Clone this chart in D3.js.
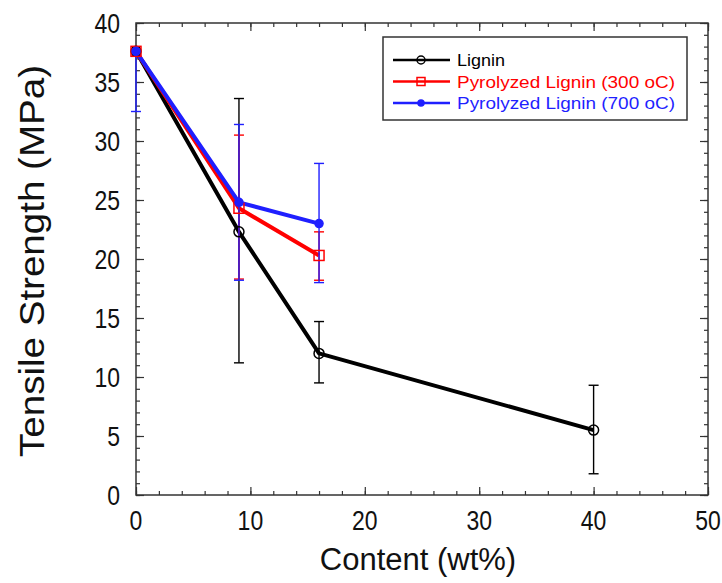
<!DOCTYPE html>
<html>
<head>
<meta charset="utf-8">
<script src="https://cdn.jsdelivr.net/npm/d3@7"></script>
<style>
  body { margin: 0; background: #fff; }
  text { font-family: "Liberation Sans", Arial, sans-serif; }
</style>
</head>
<body>
<svg id="chart"></svg>
<script>
// values
var seriesNames = ['Lignin', 'Pyrolyzed Lignin (300 oC)', 'Pyrolyzed Lignin (700 oC)'];
var seriesColors = ['#000000', '#ff0000', '#1f1fff'];
var ligninX = [0, 9, 16, 40];
var ligninY = [37.6, 22.3, 12.0, 5.5];
var ligninHi = [37.6, 33.6, 14.7, 9.3];
var ligninLo = [37.6, 11.2, 9.5, 1.8];
var pyro300X = [0, 9, 16];
var pyro300Y = [37.6, 24.3, 20.3];
var pyro300Hi = [37.6, 30.5, 22.3];
var pyro300Lo = [37.6, 18.3, 18.2];
var pyro700X = [0, 9, 16];
var pyro700Y = [37.6, 24.8, 23.0];
var pyro700Hi = [37.6, 31.4, 28.1];
var pyro700Lo = [32.5, 18.2, 18.0];
var xTicks = [0, 10, 20, 30, 40, 50];
var yTicks = [0, 5, 10, 15, 20, 25, 30, 35, 40];

var width = 722, height = 583;
var margin = {left: 136, right: 14, top: 23, bottom: 88};

var svg = d3.select('#chart')
    .attr('width', width)
    .attr('height', height);

var x = d3.scaleLinear().domain([0, 50]).range([margin.left, width - margin.right]);
var y = d3.scaleLinear().domain([0, 40]).range([height - margin.bottom, margin.top]);

function makeSeries(xs, ys, hi, lo) {
  return xs.map(function(d, i) { return {x: d, y: ys[i], hi: hi[i], lo: lo[i]}; });
}
var series = [
  makeSeries(ligninX, ligninY, ligninHi, ligninLo),
  makeSeries(pyro300X, pyro300Y, pyro300Hi, pyro300Lo),
  makeSeries(pyro700X, pyro700Y, pyro700Hi, pyro700Lo)
];

// ticks, pointing inward on all four sides
var minorX = d3.range(0, 51, 2), minorY = d3.range(0, 41, 1);
function tickSide(axisFn, scale, vals, size) {
  return axisFn(scale).tickValues(vals).tickSizeInner(-size).tickSizeOuter(0).tickFormat('');
}
var ax = svg.append('g').attr('class', 'axes').attr('color', '#333');
var bottomY = y(0), topY = y(40), leftX = x(0), rightX = x(50);
ax.append('g').attr('transform', 'translate(0,' + bottomY + ')').call(tickSide(d3.axisBottom, x, minorX, 4));
ax.append('g').attr('transform', 'translate(0,' + bottomY + ')').call(tickSide(d3.axisBottom, x, xTicks, 8));
ax.append('g').attr('transform', 'translate(0,' + topY + ')').call(tickSide(d3.axisTop, x, minorX, 4));
ax.append('g').attr('transform', 'translate(0,' + topY + ')').call(tickSide(d3.axisTop, x, xTicks, 8));
ax.append('g').attr('transform', 'translate(' + leftX + ',0)').call(tickSide(d3.axisLeft, y, minorY, 4));
ax.append('g').attr('transform', 'translate(' + leftX + ',0)').call(tickSide(d3.axisLeft, y, yTicks, 8));
ax.append('g').attr('transform', 'translate(' + rightX + ',0)').call(tickSide(d3.axisRight, y, minorY, 4));
ax.append('g').attr('transform', 'translate(' + rightX + ',0)').call(tickSide(d3.axisRight, y, yTicks, 8));
ax.selectAll('.domain').remove();
ax.selectAll('line').attr('stroke-width', 1.2);

// frame
svg.append('rect')
    .attr('x', leftX).attr('y', topY)
    .attr('width', rightX - leftX).attr('height', bottomY - topY)
    .attr('fill', 'none').attr('stroke', '#333').attr('stroke-width', 1.5);

// tick labels (the original is stretched a bit vertically)
svg.append('g').selectAll('text').data(xTicks).enter().append('text')
    .attr('transform', d => 'translate(' + x(d) + ',' + (bottomY + 35) + ') scale(1,1.2)')
    .attr('text-anchor', 'middle').attr('font-size', 23).attr('fill', '#111')
    .text(d => d);
svg.append('g').selectAll('text').data(yTicks).enter().append('text')
    .attr('transform', d => 'translate(' + (leftX - 16) + ',' + (y(d) + 10) + ') scale(1,1.2)')
    .attr('text-anchor', 'end').attr('font-size', 23).attr('fill', '#111')
    .text(d => d);

// axis titles
svg.append('text')
    .attr('x', (leftX + rightX) / 2 - 4).attr('y', bottomY + 75)
    .attr('text-anchor', 'middle').attr('font-size', 31).attr('fill', '#111')
    .text('Content (wt%)');
svg.append('text')
    .attr('transform', 'translate(44,261) rotate(-90)')
    .attr('text-anchor', 'middle').attr('font-size', 35).attr('fill', '#111')
    .attr('textLength', 392).attr('lengthAdjust', 'spacingAndGlyphs')
    .text('Tensile Strength (MPa)');

var line = d3.line().x(d => x(d.x)).y(d => y(d.y));
var plot = svg.append('g');

series.forEach(function(s, i) {
  var c = seriesColors[i];
  var g = plot.append('g');
  // error bars
  var eb = g.selectAll('.eb').data(s.filter(d => d.hi !== d.lo)).enter().append('g');
  eb.append('line')
      .attr('x1', d => x(d.x)).attr('x2', d => x(d.x))
      .attr('y1', d => y(d.hi)).attr('y2', d => y(d.lo))
      .attr('stroke', c).attr('stroke-width', 1.4);
  ['hi', 'lo'].forEach(function(k) {
    eb.append('line')
        .attr('x1', d => x(d.x) - 5).attr('x2', d => x(d.x) + 5)
        .attr('y1', d => y(d[k])).attr('y2', d => y(d[k]))
        .attr('stroke', c).attr('stroke-width', 1.4);
  });
  g.append('path').datum(s)
      .attr('d', line)
      .attr('fill', 'none').attr('stroke', c).attr('stroke-width', 4)
      .attr('stroke-linejoin', 'round');
});

// markers
series.forEach(function(s, i) {
  var c = seriesColors[i];
  var sel = plot.append('g').selectAll('.m').data(s).enter();
  if (i === 1) {
    sel.append('rect')
        .attr('x', d => x(d.x) - 5).attr('y', d => y(d.y) - 5)
        .attr('width', 10).attr('height', 10)
        .attr('fill', 'none').attr('stroke', c).attr('stroke-width', 1.5);
  } else {
    sel.append('circle')
        .attr('cx', d => x(d.x)).attr('cy', d => y(d.y))
        .attr('r', i === 0 ? 5 : 4)
        .attr('fill', i === 0 ? 'none' : c).attr('stroke', c).attr('stroke-width', 1.5);
  }
});

// legend
var legendW = [48, 218, 218];
var lg = svg.append('g').attr('transform', 'translate(383,37)');
lg.append('rect').attr('width', 304).attr('height', 83)
    .attr('fill', '#fff').attr('stroke', '#333').attr('stroke-width', 1.5);
seriesNames.forEach(function(name, i) {
  var yy = 23 + i * 21.5, c = seriesColors[i];
  lg.append('line').attr('x1', 10).attr('x2', 67).attr('y1', yy).attr('y2', yy)
      .attr('stroke', c).attr('stroke-width', 2.5);
  if (i === 1) {
    lg.append('rect').attr('x', 34).attr('y', yy - 4).attr('width', 8).attr('height', 8)
        .attr('fill', 'none').attr('stroke', c).attr('stroke-width', 1.5);
  } else {
    lg.append('circle').attr('cx', 38).attr('cy', yy).attr('r', i === 0 ? 4 : 3)
        .attr('fill', i === 0 ? 'none' : c).attr('stroke', c).attr('stroke-width', 1.5);
  }
  lg.append('text').attr('x', 74).attr('y', yy + 6)
      .attr('font-size', 17).attr('fill', c)
      .attr('textLength', legendW[i]).attr('lengthAdjust', 'spacingAndGlyphs')
      .text(name);
});
</script>
</body>
</html>
